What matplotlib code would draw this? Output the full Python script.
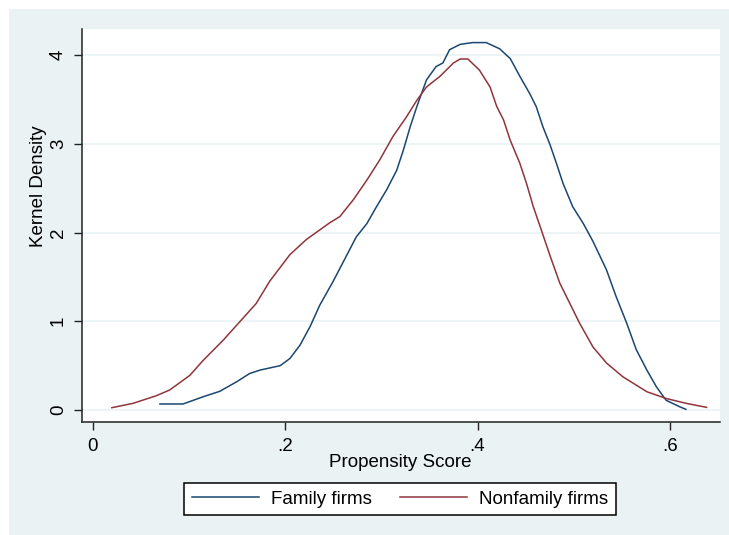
import matplotlib
matplotlib.use("Agg")
import matplotlib.pyplot as plt
from matplotlib.patches import Rectangle

plt.rcParams["font.family"] = ["Liberation Sans", "DejaVu Sans"]
plt.rcParams["font.size"] = 13.5

# kernel density of the propensity score, by group
family_x = [0.070, 0.094, 0.115, 0.132, 0.150, 0.163, 0.174, 0.195, 0.205, 0.2155,
            0.226, 0.236, 0.250, 0.262, 0.274, 0.285, 0.295, 0.3055, 0.316, 0.323,
            0.330, 0.337, 0.347, 0.357, 0.364, 0.371, 0.382, 0.395, 0.409, 0.423,
            0.434, 0.444, 0.454, 0.461, 0.468, 0.475, 0.482, 0.489, 0.499, 0.510,
            0.520, 0.534, 0.544, 0.555, 0.565, 0.576, 0.586, 0.596, 0.610, 0.6165]
family_y = [0.068, 0.068, 0.15, 0.21, 0.32, 0.41, 0.45, 0.50, 0.58, 0.73,
            0.94, 1.18, 1.45, 1.70, 1.95, 2.10, 2.29, 2.48, 2.70, 2.93,
            3.19, 3.42, 3.72, 3.87, 3.91, 4.06, 4.12, 4.14, 4.14, 4.07,
            3.96, 3.76, 3.57, 3.42, 3.19, 3.00, 2.78, 2.55, 2.29, 2.10,
            1.90, 1.58, 1.28, 0.98, 0.68, 0.45, 0.26, 0.11, 0.037, 0.008]

nonfamily_x = [0.020, 0.042, 0.066, 0.080, 0.101, 0.115, 0.136, 0.153, 0.170, 0.184,
               0.205, 0.222, 0.2465, 0.257, 0.271, 0.285, 0.2985, 0.312, 0.326, 0.337,
               0.347, 0.361, 0.375, 0.382, 0.390, 0.402, 0.413, 0.420, 0.427, 0.434,
               0.444, 0.451, 0.458, 0.465, 0.475, 0.4855, 0.496, 0.506, 0.520, 0.534,
               0.551, 0.576, 0.596, 0.617, 0.638]
nonfamily_y = [0.026, 0.075, 0.16, 0.225, 0.39, 0.56, 0.79, 0.995, 1.20, 1.45,
               1.75, 1.92, 2.11, 2.18, 2.37, 2.59, 2.82, 3.08, 3.30, 3.49,
               3.64, 3.76, 3.91, 3.955, 3.955, 3.83, 3.64, 3.42, 3.27, 3.04,
               2.78, 2.55, 2.29, 2.07, 1.75, 1.43, 1.20, 0.98, 0.71, 0.53,
               0.375, 0.206, 0.13, 0.075, 0.03]

x_ticks = [0, 0.2, 0.4, 0.6]
x_ticklabels = ["0", ".2", ".4", ".6"]
y_ticks = [0, 1, 2, 3, 4]

navy = "#1A476F"
maroon = "#90353B"
bg = "#EAF2F3"

W, H = 729, 535
fig = plt.figure(figsize=(W / 100, H / 100), dpi=100)
fig.patch.set_facecolor("white")
# stata-style graph region behind everything
fig.patches.append(Rectangle((9 / W, 0), (W - 9) / W, (H - 9) / H,
                             transform=fig.transFigure, facecolor=bg,
                             edgecolor="none", zorder=-5))

ax = fig.add_axes([82 / W, (H - 422) / H, (720 - 82) / W, (422 - 29) / H])
ax.set_facecolor("white")

ax.plot(family_x, family_y, color=navy, lw=1.1, label="Family firms")
ax.plot(nonfamily_x, nonfamily_y, color=maroon, lw=1.1, label="Nonfamily firms")

ax.set_xlim(-0.011, 0.652)
ax.set_ylim(-0.135, 4.293)
ax.set_xticks(x_ticks)
ax.set_xticklabels(x_ticklabels)
ax.set_yticks(y_ticks)
ax.grid(axis="y", color=bg, lw=1.2)
ax.set_axisbelow(True)

for side in ["top", "right"]:
    ax.spines[side].set_visible(False)
for side in ["left", "bottom"]:
    ax.spines[side].set_color("#222222")
    ax.spines[side].set_linewidth(1.1)

ax.tick_params(axis="both", direction="out", length=5.8, width=1.0, color="#222222")
ax.tick_params(axis="x", pad=6)
ax.tick_params(axis="y", pad=5, labelrotation=90)
for lbl in ax.get_yticklabels():
    lbl.set_va("center")

fig.text(38.5 / W, 1 - 186 / H, "Kernel Density", rotation=90,
         ha="center", va="center")
fig.text(400 / W, 1 - 466.7 / H, "Propensity Score", ha="center", va="baseline")

leg = fig.legend(loc="center", bbox_to_anchor=(400 / W, 1 - 499 / H), ncol=2,
                 frameon=True, fancybox=False, framealpha=1, edgecolor="black",
                 handlelength=3.6, handletextpad=0.64, columnspacing=1.47,
                 borderpad=0.4, borderaxespad=0)
leg.get_frame().set_linewidth(1.1)

fig.savefig("out.png", dpi=100)
